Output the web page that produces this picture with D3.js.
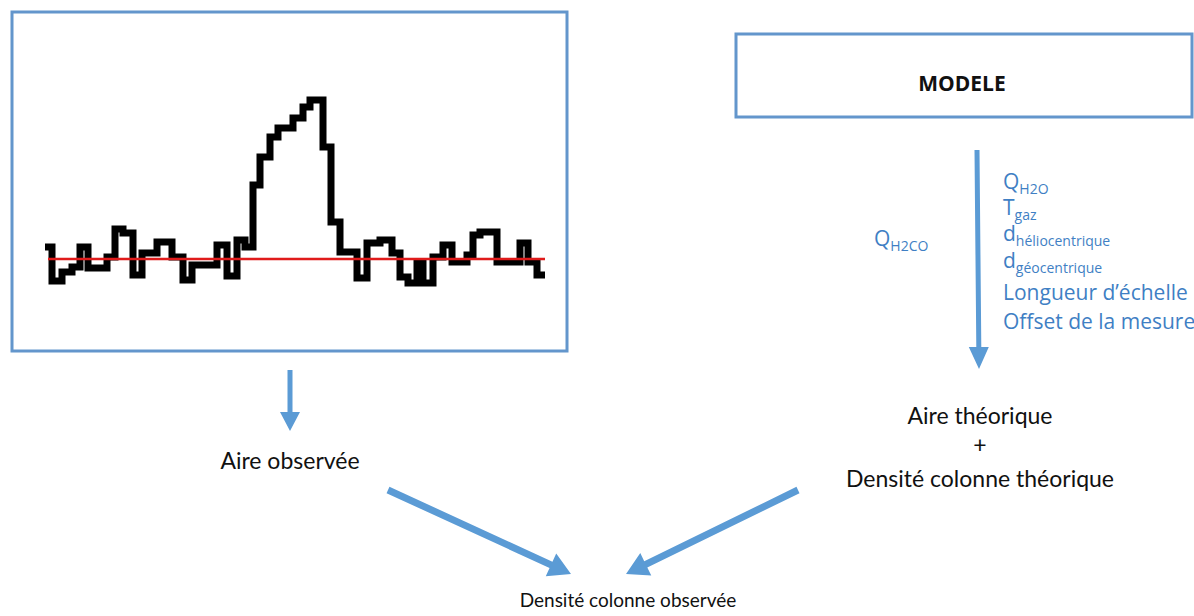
<!DOCTYPE html>
<meta charset="utf-8">
<script src="https://cdn.jsdelivr.net/npm/d3@7"></script>
<style>
body{margin:0;background:#fff;}
</style>
<body>
<script>
// spectre observe : debut de chaque canal + intensite (unites arbitraires)
var chanStart=[0,7,17,27,35,43,62,70,78,88,97,112,127,138,147,172,182,192,200,208,215,225,233,248,258,265,278,286,295,312,322,335,347,355,363,372,378,388,398,407,422,428,435,452,475,483,492];
var intensity=[12,-22,-13,-8,12,-9,2,30,26,-16,6,17,2,-21,-6,14,-17,19,12,74,102,122,131,141,152,159,112,37,7,-19,16,19,6,-18,-24,-4,-24,2,14,-3,4,24,27,-3,16,-3,-16];
var chanEnd=500;
var baseline=0;

// textes du schema
var modelTitle="MODELE";
var leftParam={main:"Q",sub:"H2CO"};
var paramMain=["Q","T","d","d","Longueur d\u2019\u00e9chelle","Offset de la mesure"];
var paramSub=["H2O","gaz","h\u00e9liocentrique","g\u00e9ocentrique","",""];
var theoLines=["Aire th\u00e9orique","+","Densit\u00e9 colonne th\u00e9orique"];
var obsLabel="Aire observ\u00e9e";
var resultLabel="Densit\u00e9 colonne observ\u00e9e";

var boxCol="#6396cc", arrowCol="#5b9bd5", blueText="#3f7fc4";

var svg=d3.select("body").append("svg").attr("width",1194).attr("height",616);

// ---- boite du spectre
svg.append("rect").attr("x",12).attr("y",12).attr("width",555).attr("height",339)
  .attr("fill","none").attr("stroke",boxCol).attr("stroke-width",3);

var x=d3.scaleLinear().domain([0,chanEnd]).range([45,545]);
var y=d3.scaleLinear().domain([-30,160]).range([289,99]);

var pts=chanStart.map(function(c,i){return [c,intensity[i]];});
pts.push([chanEnd,intensity[intensity.length-1]]);

var line=d3.line().x(function(d){return x(d[0]);}).y(function(d){return y(d[1]);}).curve(d3.curveStepAfter);

svg.append("path").datum(pts).attr("d",line)
  .attr("fill","none").attr("stroke","#000").attr("stroke-width",7).attr("stroke-linejoin","miter");

svg.append("line").attr("x1",x(3)).attr("x2",x(chanEnd)).attr("y1",y(baseline)).attr("y2",y(baseline))
  .attr("stroke","#e01b1b").attr("stroke-width",2.5);

// ---- boite modele
svg.append("rect").attr("x",736).attr("y",34).attr("width",456).attr("height",83)
  .attr("fill","none").attr("stroke",boxCol).attr("stroke-width",3);
svg.append("text").attr("x",962).attr("y",91).attr("text-anchor","middle")
  .style("font-family","Open Sans").style("font-weight","bold").style("font-size","21px")
  .attr("fill","#111").text(modelTitle);

// ---- fleches
function arrow(x1,y1,x2,y2,sw,hw,hl){
  var dx=x2-x1, dy=y2-y1, L=Math.sqrt(dx*dx+dy*dy);
  var ux=dx/L, uy=dy/L, nx=-uy, ny=ux;
  var bx=x2-ux*hl, by=y2-uy*hl;
  var p=[[x1+nx*sw/2,y1+ny*sw/2],[bx+nx*sw/2,by+ny*sw/2],[bx+nx*hw/2,by+ny*hw/2],[x2,y2],
         [bx-nx*hw/2,by-ny*hw/2],[bx-nx*sw/2,by-ny*sw/2],[x1-nx*sw/2,y1-ny*sw/2]];
  svg.append("path").attr("d",d3.line()(p)+"Z").attr("fill",arrowCol);
}
arrow(290,370,290,431,5,20,19);
arrow(977,150,979,369,5,20,22);
arrow(388,490,571,574,7,25,22);
arrow(798,490,626,574,7,25,22);

// ---- parametres
function subText(xp,yp,main,sub){
  var t=svg.append("text").attr("x",xp).attr("y",yp).attr("fill",blueText)
    .style("font-family","Open Sans").style("font-size","21px");
  t.append("tspan").text(main);
  if(sub) t.append("tspan").attr("dy",5).style("font-size","14px").text(sub);
}
subText(874,246,leftParam.main,leftParam.sub);
var paramY=[189,215,241,268,300,329];
paramMain.forEach(function(m,i){subText(1003,paramY[i],m,paramSub[i]);});

// ---- textes noirs
var blackFont="Lato";
svg.selectAll(".theo").data(theoLines).enter().append("text")
  .attr("x",980).attr("y",function(d,i){return [424,453,487][i];})
  .attr("text-anchor","middle").style("font-family",blackFont).style("font-size","23px")
  .attr("fill","#111").text(function(d){return d;});

svg.append("text").attr("x",290).attr("y",469).attr("text-anchor","middle")
  .style("font-family",blackFont).style("font-size","23px").attr("fill","#111").text(obsLabel);

svg.append("text").attr("x",628).attr("y",607).attr("text-anchor","middle")
  .style("font-family",blackFont).style("font-size","19px").attr("fill","#111").text(resultLabel);
</script>
</body>
